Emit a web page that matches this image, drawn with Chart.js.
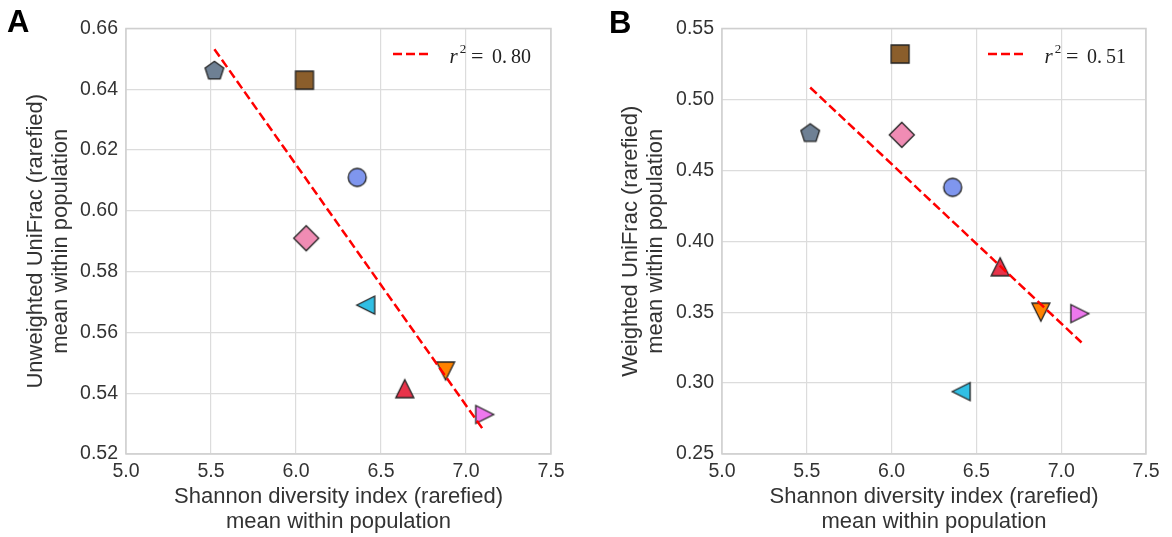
<!DOCTYPE html>
<html lang="en">
<head>
<meta charset="UTF-8">
<title>Shannon diversity vs UniFrac distance</title>
<script src="https://cdn.jsdelivr.net/npm/chart.js"></script>
<style>
  body { margin: 0; background: #fff; }
  #wrap { position: relative; width: 1172px; height: 537px; }
  #wrap canvas { position: absolute; top: 0; }
</style>
</head>
<body>
<div id="wrap">
  <canvas id="chartA" width="586" height="537" style="left:0"></canvas>
  <canvas id="chartB" width="586" height="537" style="left:586px"></canvas>
</div>
<script>
// one marker per population
const markerShapes = ['pentagon', 'square', 'circle', 'diamond', 'triLeft', 'triUp', 'triDown', 'triRight'];
const markerColors = ['#6e8094', '#8b5e2b', '#7f96ee', '#f08cb4', '#31bfe4', '#e8334a', '#ff8200', '#ee78ee'];

// population means
const shannon = [5.52, 6.05, 6.36, 6.06, 6.41, 6.64, 6.88, 7.11];
const unweightedUniFrac = [0.646, 0.643, 0.611, 0.591, 0.569, 0.5415, 0.5473, 0.533];
const weightedUniFrac = [0.476, 0.532, 0.438, 0.475, 0.294, 0.382, 0.350, 0.349];

// least squares fit lines (endpoints)
const fitA_x = [5.52, 7.10];
const fitA_y = [0.6532, 0.5281];
const fitB_x = [5.52, 7.12];
const fitB_y = [0.5084, 0.3286];
const r2A = '0.80';
const r2B = '0.51';

const xTicks = [5.0, 5.5, 6.0, 6.5, 7.0, 7.5];
const yTicksA = [0.52, 0.54, 0.56, 0.58, 0.60, 0.62, 0.64, 0.66];
const yTicksB = [0.25, 0.30, 0.35, 0.40, 0.45, 0.50, 0.55];

const SANS = '"Liberation Sans", Arial, Helvetica, sans-serif';
const SERIF = '"Liberation Serif", "DejaVu Serif", serif';
const textColor = '#333333';

function makeMarker(shape, color) {
  const c = document.createElement('canvas');
  c.width = 30; c.height = 30;
  const g = c.getContext('2d');
  g.translate(15, 15);
  g.beginPath();
  const h = 9;
  switch (shape) {
    case 'circle':
      g.arc(0, 0, 9, 0, Math.PI * 2);
      break;
    case 'square':
      g.rect(-h, -h, 2 * h, 2 * h);
      break;
    case 'diamond':
      g.moveTo(0, -12.5); g.lineTo(12.5, 0); g.lineTo(0, 12.5); g.lineTo(-12.5, 0);
      break;
    case 'pentagon':
      for (let k = 0; k < 5; k++) {
        const a = (-90 + k * 72) * Math.PI / 180;
        const px = 9.8 * Math.cos(a), py = 9.8 * Math.sin(a);
        k === 0 ? g.moveTo(px, py) : g.lineTo(px, py);
      }
      break;
    case 'triUp':
      g.moveTo(0, -h); g.lineTo(h, h); g.lineTo(-h, h);
      break;
    case 'triDown':
      g.moveTo(0, h); g.lineTo(-h, -h); g.lineTo(h, -h);
      break;
    case 'triLeft':
      g.moveTo(-h, 0); g.lineTo(h, -h); g.lineTo(h, h);
      break;
    case 'triRight':
      g.moveTo(h, 0); g.lineTo(-h, -h); g.lineTo(-h, h);
      break;
  }
  g.closePath();
  g.fillStyle = color;
  g.fill();
  g.lineWidth = 1.3;
  g.lineJoin = 'miter';
  g.strokeStyle = '#222222';
  g.stroke();
  return c;
}

const markers = markerShapes.map((s, i) => makeMarker(s, markerColors[i]));

// light frame around the plotting area
const framePlugin = {
  id: 'frame',
  beforeDatasetsDraw(chart) {
    const { ctx, chartArea: a } = chart;
    ctx.save();
    ctx.strokeStyle = '#cfcfcf';
    ctx.lineWidth = 1.5;
    ctx.strokeRect(a.left, a.top, a.width, a.height);
    ctx.restore();
  }
};

// "r^2 = ..." key in the upper right corner
const fitLegendPlugin = {
  id: 'fitLegend',
  afterDatasetsDraw(chart, args, opts) {
    const { ctx, chartArea: a } = chart;
    const ly = a.top + 25.5;
    ctx.save();
    ctx.strokeStyle = 'red';
    ctx.lineWidth = 2.5;
    ctx.setLineDash([9, 4]);
    ctx.beginPath();
    ctx.moveTo(a.right - 158, ly);
    ctx.lineTo(a.right - 120, ly);
    ctx.stroke();

    const x0 = a.right - 101.5;
    const base = a.top + 34;
    ctx.fillStyle = '#222';
    ctx.textBaseline = 'alphabetic';
    ctx.textAlign = 'left';
    ctx.font = 'italic 21px ' + SERIF;
    ctx.fillText('r', x0, base);
    ctx.font = '13px ' + SERIF;
    ctx.fillText('2', x0 + 10.2, base - 9.4);
    ctx.font = '22px ' + SERIF;
    ctx.fillText('=', x0 + 21.5, base);
    ctx.font = '20px ' + SERIF;
    const [ip, fp] = opts.value.split('.');
    ctx.fillText(ip + '.', x0 + 42.5, base);
    ctx.fillText(fp, x0 + 61.5, base);
    ctx.restore();
  }
};

const panelLabelPlugin = {
  id: 'panelLabel',
  afterDraw(chart, args, opts) {
    const ctx = chart.ctx;
    ctx.save();
    ctx.fillStyle = '#000';
    ctx.font = 'bold 31px ' + SANS;
    ctx.textBaseline = 'alphabetic';
    ctx.textAlign = 'left';
    ctx.fillText(opts.text, opts.x, opts.y);
    ctx.restore();
  }
};

function buildChart(id, yValues, yTicks, fitX, fitY, r2, yTitle, opt) {
  const datasets = [{
    type: 'line',
    data: fitX.map((x, i) => ({ x: x, y: fitY[i] })),
    borderColor: 'red',
    borderWidth: 2.5,
    borderDash: [9, 4],
    pointRadius: 0,
    fill: false,
    order: 0
  }];
  shannon.forEach((x, i) => {
    datasets.push({
      data: [{ x: x, y: yValues[i] }],
      pointStyle: markers[i],
      pointRadius: 10,
      order: 1
    });
  });

  return new Chart(document.getElementById(id), {
    type: 'scatter',
    data: { datasets: datasets },
    plugins: [framePlugin, fitLegendPlugin, panelLabelPlugin],
    options: {
      responsive: false,
      animation: false,
      layout: { padding: { top: 28.5, right: opt.right, bottom: 0, left: 0 } },
      plugins: {
        legend: { display: false },
        tooltip: { enabled: false },
        fitLegend: { value: r2 },
        panelLabel: { text: opt.label, x: opt.labelX, y: opt.labelY }
      },
      scales: {
        x: {
          type: 'linear',
          min: xTicks[0],
          max: xTicks[xTicks.length - 1],
          afterBuildTicks: s => { s.ticks = xTicks.map(v => ({ value: v })); },
          afterFit: s => { s.height = 83; },
          grid: { color: '#dcdcdc', lineWidth: 1.2, drawTicks: false },
          border: { display: false },
          ticks: {
            padding: 6,
            color: textColor,
            font: { family: SANS, size: 19.5 },
            callback: v => v.toFixed(1)
          },
          title: {
            display: true,
            text: ['Shannon diversity index (rarefied)', 'mean within population'],
            color: textColor,
            font: { family: SANS, size: 22, lineHeight: 1.12 },
            padding: { top: 0, bottom: 3 }
          }
        },
        y: {
          type: 'linear',
          min: yTicks[0],
          max: yTicks[yTicks.length - 1],
          afterBuildTicks: s => { s.ticks = yTicks.map(v => ({ value: v })); },
          afterFit: s => { s.width = opt.yWidth; },
          grid: { color: '#dcdcdc', lineWidth: 1.2, drawTicks: false },
          border: { display: false },
          ticks: {
            padding: 8,
            color: textColor,
            font: { family: SANS, size: 19.5 },
            callback: v => v.toFixed(2)
          },
          title: {
            display: true,
            text: yTitle,
            color: textColor,
            font: { family: SANS, size: 22, lineHeight: 1.12 },
            padding: { top: opt.yTitlePad, bottom: 0 }
          }
        }
      }
    }
  });
}

buildChart('chartA', unweightedUniFrac, yTicksA, fitA_x, fitA_y, r2A,
  ['Unweighted UniFrac (rarefied)', 'mean within population'],
  { right: 35, yWidth: 126, yTitlePad: 23.5, label: 'A', labelX: 7, labelY: 32 });

buildChart('chartB', weightedUniFrac, yTicksB, fitB_x, fitB_y, r2B,
  ['Weighted UniFrac (rarefied)', 'mean within population'],
  { right: 26, yWidth: 136, yTitlePad: 33, label: 'B', labelX: 23, labelY: 32.7 });
</script>
</body>
</html>
